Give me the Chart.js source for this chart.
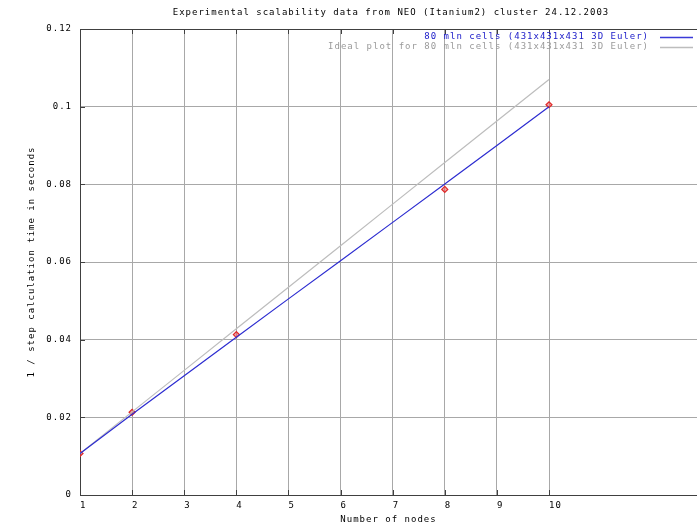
<!DOCTYPE html>
<html>
<head>
<meta charset="utf-8">
<script src="https://cdn.jsdelivr.net/npm/chart.js@4"></script>
<style>
  html, body { margin: 0; padding: 0; background: #fff; }
  #wrap { width: 697px; height: 526px; }
</style>
</head>
<body>
<div id="wrap"><canvas id="chart"></canvas></div>
<script>
// data
const nodes = [1, 2, 3, 4, 5, 6, 7, 8, 9, 10];
const fitValues = [0.0107, 0.0208, 0.0307, 0.0406, 0.0505, 0.0603, 0.0702, 0.0801, 0.0900, 0.1000];
const idealValues = [0.0107, 0.0214, 0.0321, 0.0428, 0.0535, 0.0642, 0.0749, 0.0856, 0.0963, 0.1070];
const measuredNodes = [1, 2, 4, 8, 10];
const measuredValues = [0.0107, 0.0213, 0.0413, 0.0787, 0.1005];
const xTicks = [1, 2, 3, 4, 5, 6, 7, 8, 9, 10];
const yTicks = [0, 0.02, 0.04, 0.06, 0.08, 0.1, 0.12];

const titleText = "Experimental scalability data from NEO (Itanium2) cluster 24.12.2003";
const FONT = "'DejaVu Sans Mono', 'Liberation Mono', monospace";
const FSIZE = 9;
const SPACING = "1px"; // the old gnuplot font is wide and short

const pairs = (xs, ys) => xs.map((x, i) => ({ x: x, y: ys[i] }));

// letter spacing has to be on the context before layout measures the labels
const wideText = {
  id: "wideText",
  beforeLayout(chart) { chart.ctx.letterSpacing = SPACING; },
  beforeDraw(chart) { chart.ctx.letterSpacing = SPACING; }
};

// small inward tick marks like gnuplot draws on the border
const innerTicks = {
  id: "innerTicks",
  afterDatasetsDraw(chart) {
    const c = chart.ctx, a = chart.chartArea;
    const sx = chart.scales.x, sy = chart.scales.y;
    c.save();
    c.strokeStyle = "#404040";
    c.lineWidth = 1;
    c.beginPath();
    sx.ticks.forEach((t) => {
      const px = Math.round(sx.getPixelForValue(t.value)) + 0.5;
      c.moveTo(px, a.bottom); c.lineTo(px, a.bottom - 5);
      c.moveTo(px, a.top); c.lineTo(px, a.top + 5);
    });
    sy.ticks.forEach((t) => {
      const py = Math.round(sy.getPixelForValue(t.value)) + 0.5;
      c.moveTo(a.left, py); c.lineTo(a.left + 5, py);
    });
    c.stroke();
    c.restore();
  }
};

// gnuplot-style title and legend (text right aligned, line sample after it)
const gnuDecor = {
  id: "gnuDecor",
  afterDraw(chart) {
    const c = chart.ctx;
    c.save();
    c.letterSpacing = SPACING;
    c.font = FSIZE + "px " + FONT;
    c.textBaseline = "middle";
    c.fillStyle = "#000";
    c.textAlign = "center";
    c.fillText(titleText, 391, 12.5);

    c.textAlign = "right";
    chart.data.datasets.forEach((ds, i) => {
      if (!ds.legend) return;
      const y = 37 + i * 10;
      c.fillStyle = ds.legendText;
      c.fillText(ds.label, 649, y);
      c.strokeStyle = ds.legendLine;
      c.lineWidth = 1.3;
      c.beginPath();
      c.moveTo(660, y + 0.5);
      c.lineTo(693, y + 0.5);
      c.stroke();
    });
    c.restore();
  }
};

new Chart(document.getElementById("chart"), {
  type: "line",
  plugins: [wideText, innerTicks, gnuDecor],
  data: {
    datasets: [
      {
        label: "80 mln cells (431x431x431 3D Euler)",
        data: pairs(nodes, fitValues),
        borderColor: "#2c2cd0",
        legendText: "#1818c8",
        legendLine: "#3a3ad8",
        legend: true,
        borderWidth: 1.2,
        pointRadius: 0,
        tension: 0
      },
      {
        label: "Ideal plot for 80 mln cells (431x431x431 3D Euler)",
        data: pairs(nodes, idealValues),
        borderColor: "#bdbdbd",
        legendText: "#9a9a9a",
        legendLine: "#bdbdbd",
        legend: true,
        borderWidth: 1.2,
        pointRadius: 0,
        tension: 0
      },
      {
        label: "measured",
        data: pairs(measuredNodes, measuredValues),
        showLine: false,
        pointStyle: "rectRot",
        pointRadius: 3,
        pointBorderWidth: 1.2,
        pointBorderColor: "#e02828",
        pointBackgroundColor: "rgba(235,90,90,0.55)"
      }
    ]
  },
  options: {
    responsive: true,
    maintainAspectRatio: false,
    animation: false,
    layout: { autoPadding: false, padding: { top: 29, right: 0, left: 0, bottom: 0 } },
    plugins: {
      legend: { display: false },
      title: { display: false },
      tooltip: { enabled: false }
    },
    scales: {
      x: {
        type: "linear",
        min: 1,
        max: 12.84,
        afterBuildTicks: (scale) => {
          scale.ticks = xTicks.map((v) => ({ value: v }));
        },
        afterFit: (scale) => {
          scale.height = 31;
          scale.paddingLeft = 0;
          scale.paddingRight = 0;
        },
        ticks: {
          align: "start",
          padding: 5,
          maxRotation: 0,
          color: "#000",
          font: { family: FONT, size: FSIZE },
          callback: (v) => String(v)
        },
        grid: {
          drawTicks: false,
          color: "#a8a8a8",
          lineWidth: 1
        },
        border: { color: "#404040", width: 1 },
        title: {
          display: true,
          text: "Number of nodes",
          color: "#000",
          font: { family: FONT, size: FSIZE },
          padding: { top: 0, bottom: 1 }
        }
      },
      y: {
        min: 0,
        max: 0.12,
        afterBuildTicks: (scale) => {
          scale.ticks = yTicks.map((v) => ({ value: v }));
        },
        afterFit: (scale) => {
          scale.width = 80;
        },
        ticks: {
          padding: 8,
          color: "#000",
          font: { family: FONT, size: FSIZE },
          callback: (v) => String(Math.round(v * 100) / 100)
        },
        grid: {
          drawTicks: false,
          color: (ctx) => (ctx.tick && ctx.tick.value >= 0.12 ? "#404040" : "#a8a8a8"),
          lineWidth: 1
        },
        border: { color: "#404040", width: 1 },
        title: {
          display: true,
          text: "1 / step calculation time in seconds",
          color: "#000",
          font: { family: FONT, size: FSIZE },
          padding: { top: 26, bottom: 0 }
        }
      }
    }
  }
});
</script>
</body>
</html>
